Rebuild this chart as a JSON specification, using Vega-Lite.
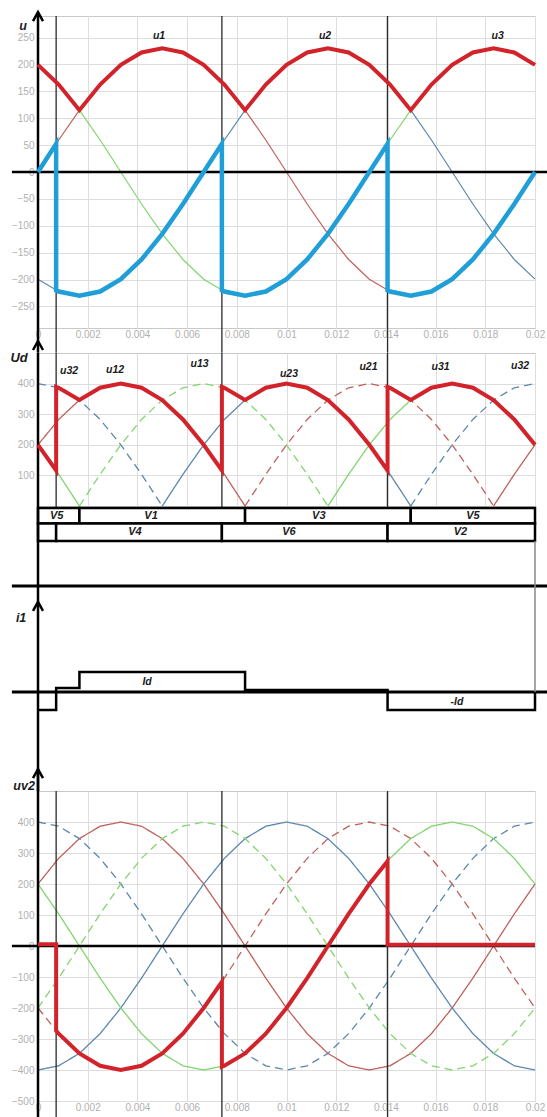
{
"$schema":"https://vega.github.io/schema/vega-lite/v6.json",
"padding":{"left":9,"top":6,"right":0,"bottom":0},
"background":"white",
"spacing":25,
"bounds":"flush",
"resolve":{"scale":{"color":"independent","strokeDash":"independent"}},
"config":{
 "view":{"stroke":"#c8c8c8","strokeWidth":1},
 "axis":{"domain":false,"ticks":false,"gridColor":"#dddddd","gridWidth":1,"labelColor":"#b0b0b0","labelFont":"Liberation Sans","labelFontSize":10,"labelFlush":false,"labelOverlap":false,"labelPadding":4,"tickCount":30}
},
"datasets":{
 "p1":[
{"t":0,"u1":0,"u2":-199.2,"u3":199.2,"top":199.2},
{"t":0.000833,"u1":59.5,"u2":-222.2,"u3":162.6,"top":162.6},
{"t":0.001667,"u1":115,"u2":-230,"u3":115,"top":115},
{"t":0.0025,"u1":162.6,"u2":-222.2,"u3":59.5,"top":162.6},
{"t":0.003333,"u1":199.2,"u2":-199.2,"u3":0,"top":199.2},
{"t":0.004167,"u1":222.2,"u2":-162.6,"u3":-59.5,"top":222.2},
{"t":0.005,"u1":230,"u2":-115,"u3":-115,"top":230},
{"t":0.005833,"u1":222.2,"u2":-59.5,"u3":-162.6,"top":222.2},
{"t":0.006667,"u1":199.2,"u2":0,"u3":-199.2,"top":199.2},
{"t":0.0075,"u1":162.6,"u2":59.5,"u3":-222.2,"top":162.6},
{"t":0.008333,"u1":115,"u2":115,"u3":-230,"top":115},
{"t":0.009167,"u1":59.5,"u2":162.6,"u3":-222.2,"top":162.6},
{"t":0.01,"u1":0,"u2":199.2,"u3":-199.2,"top":199.2},
{"t":0.010833,"u1":-59.5,"u2":222.2,"u3":-162.6,"top":222.2},
{"t":0.011667,"u1":-115,"u2":230,"u3":-115,"top":230},
{"t":0.0125,"u1":-162.6,"u2":222.2,"u3":-59.5,"top":222.2},
{"t":0.013333,"u1":-199.2,"u2":199.2,"u3":0,"top":199.2},
{"t":0.014167,"u1":-222.2,"u2":162.6,"u3":59.5,"top":162.6},
{"t":0.015,"u1":-230,"u2":115,"u3":115,"top":115},
{"t":0.015833,"u1":-222.2,"u2":59.5,"u3":162.6,"top":162.6},
{"t":0.016667,"u1":-199.2,"u2":0,"u3":199.2,"top":199.2},
{"t":0.0175,"u1":-162.6,"u2":-59.5,"u3":222.2,"top":222.2},
{"t":0.018333,"u1":-115,"u2":-115,"u3":230,"top":230},
{"t":0.019167,"u1":-59.5,"u2":-162.6,"u3":222.2,"top":222.2},
{"t":0.02,"u1":0,"u2":-199.2,"u3":199.2,"top":199.2}
 ],
 "p1bot":[
{"t":0,"v":0},{"t":0.00073,"v":52.3},{"t":0.00073,"v":-220.1},{"t":0.000833,"v":-222.2},{"t":0.001667,"v":-230},{"t":0.0025,"v":-222.2},{"t":0.003333,"v":-199.2},{"t":0.004167,"v":-162.6},{"t":0.005,"v":-115},{"t":0.005833,"v":-59.5},{"t":0.006667,"v":0},{"t":0.0074,"v":52.3},{"t":0.0074,"v":-220.1},{"t":0.0075,"v":-222.2},{"t":0.008333,"v":-230},{"t":0.009167,"v":-222.2},{"t":0.01,"v":-199.2},{"t":0.010833,"v":-162.6},{"t":0.011667,"v":-115},{"t":0.0125,"v":-59.5},{"t":0.013333,"v":0},{"t":0.014067,"v":52.3},{"t":0.014067,"v":-220.1},{"t":0.014167,"v":-222.2},{"t":0.015,"v":-230},{"t":0.015833,"v":-222.2},{"t":0.016667,"v":-199.2},{"t":0.0175,"v":-162.6},{"t":0.018333,"v":-115},{"t":0.019167,"v":-59.5},{"t":0.02,"v":0}
 ],
 "p2":[
{"g":"R1","t":0,"v":200},{"g":"R1","t":0.000833,"v":282.8},{"g":"R1","t":0.001667,"v":346.4},{"g":"R1","t":0.0025,"v":386.4},{"g":"R1","t":0.003333,"v":400},{"g":"R1","t":0.004167,"v":386.4},{"g":"R1","t":0.005,"v":346.4},{"g":"R1","t":0.005833,"v":282.8},{"g":"R1","t":0.006667,"v":200},{"g":"R1","t":0.0075,"v":103.5},{"g":"R1","t":0.008333,"v":0},
{"g":"R2","t":0.008333,"v":0},{"g":"R2","t":0.009167,"v":103.5},{"g":"R2","t":0.01,"v":200},{"g":"R2","t":0.010833,"v":282.8},{"g":"R2","t":0.011667,"v":346.4},{"g":"R2","t":0.0125,"v":386.4},{"g":"R2","t":0.013333,"v":400},{"g":"R2","t":0.014167,"v":386.4},{"g":"R2","t":0.015,"v":346.4},{"g":"R2","t":0.015833,"v":282.8},{"g":"R2","t":0.016667,"v":200},{"g":"R2","t":0.0175,"v":103.5},{"g":"R2","t":0.018333,"v":0},
{"g":"R3","t":0.018333,"v":0},{"g":"R3","t":0.019167,"v":103.5},{"g":"R3","t":0.02,"v":200},
{"g":"B1","t":0,"v":400},{"g":"B1","t":0.000833,"v":386.4},{"g":"B1","t":0.001667,"v":346.4},{"g":"B1","t":0.0025,"v":282.8},{"g":"B1","t":0.003333,"v":200},{"g":"B1","t":0.004167,"v":103.5},{"g":"B1","t":0.005,"v":0},
{"g":"B2","t":0.005,"v":0},{"g":"B2","t":0.005833,"v":103.5},{"g":"B2","t":0.006667,"v":200},{"g":"B2","t":0.0075,"v":282.8},{"g":"B2","t":0.008333,"v":346.4},{"g":"B2","t":0.009167,"v":386.4},{"g":"B2","t":0.01,"v":400},{"g":"B2","t":0.010833,"v":386.4},{"g":"B2","t":0.011667,"v":346.4},{"g":"B2","t":0.0125,"v":282.8},{"g":"B2","t":0.013333,"v":200},{"g":"B2","t":0.014167,"v":103.5},{"g":"B2","t":0.015,"v":0},
{"g":"B3","t":0.015,"v":0},{"g":"B3","t":0.015833,"v":103.5},{"g":"B3","t":0.016667,"v":200},{"g":"B3","t":0.0175,"v":282.8},{"g":"B3","t":0.018333,"v":346.4},{"g":"B3","t":0.019167,"v":386.4},{"g":"B3","t":0.02,"v":400},
{"g":"G1","t":0,"v":200},{"g":"G1","t":0.000833,"v":103.5},{"g":"G1","t":0.001667,"v":0},
{"g":"G2","t":0.001667,"v":0},{"g":"G2","t":0.0025,"v":103.5},{"g":"G2","t":0.003333,"v":200},{"g":"G2","t":0.004167,"v":282.8},{"g":"G2","t":0.005,"v":346.4},{"g":"G2","t":0.005833,"v":386.4},{"g":"G2","t":0.006667,"v":400},{"g":"G2","t":0.0075,"v":386.4},{"g":"G2","t":0.008333,"v":346.4},{"g":"G2","t":0.009167,"v":282.8},{"g":"G2","t":0.01,"v":200},{"g":"G2","t":0.010833,"v":103.5},{"g":"G2","t":0.011667,"v":0},
{"g":"G3","t":0.011667,"v":0},{"g":"G3","t":0.0125,"v":103.5},{"g":"G3","t":0.013333,"v":200},{"g":"G3","t":0.014167,"v":282.8},{"g":"G3","t":0.015,"v":346.4},{"g":"G3","t":0.015833,"v":386.4},{"g":"G3","t":0.016667,"v":400},{"g":"G3","t":0.0175,"v":386.4},{"g":"G3","t":0.018333,"v":346.4},{"g":"G3","t":0.019167,"v":282.8},{"g":"G3","t":0.02,"v":200}
 ],
 "ud":[
{"t":0,"v":200},{"t":0.00073,"v":116},{"t":0.00073,"v":389.5},{"t":0.000833,"v":386.4},{"t":0.001667,"v":346.4},{"t":0.0025,"v":386.4},{"t":0.003333,"v":400},{"t":0.004167,"v":386.4},{"t":0.005,"v":346.4},{"t":0.005833,"v":282.8},{"t":0.006667,"v":200},{"t":0.0074,"v":116},{"t":0.0074,"v":389.5},{"t":0.0075,"v":386.4},{"t":0.008333,"v":346.4},{"t":0.009167,"v":386.4},{"t":0.01,"v":400},{"t":0.010833,"v":386.4},{"t":0.011667,"v":346.4},{"t":0.0125,"v":282.8},{"t":0.013333,"v":200},{"t":0.014067,"v":116},{"t":0.014067,"v":389.5},{"t":0.014167,"v":386.4},{"t":0.015,"v":346.4},{"t":0.015833,"v":386.4},{"t":0.016667,"v":400},{"t":0.0175,"v":386.4},{"t":0.018333,"v":346.4},{"t":0.019167,"v":282.8},{"t":0.02,"v":200}
 ],
 "p4":[
{"t":0,"Rs":200,"Rd":-200,"Bs":-400,"Bd":400,"Gs":200,"Gd":-200},
{"t":0.000833,"Rs":282.8,"Rd":-282.8,"Bs":-386.4,"Bd":386.4,"Gs":103.5,"Gd":-103.5},
{"t":0.001667,"Rs":346.4,"Rd":-346.4,"Bs":-346.4,"Bd":346.4,"Gs":0,"Gd":0},
{"t":0.0025,"Rs":386.4,"Rd":-386.4,"Bs":-282.8,"Bd":282.8,"Gs":-103.5,"Gd":103.5},
{"t":0.003333,"Rs":400,"Rd":-400,"Bs":-200,"Bd":200,"Gs":-200,"Gd":200},
{"t":0.004167,"Rs":386.4,"Rd":-386.4,"Bs":-103.5,"Bd":103.5,"Gs":-282.8,"Gd":282.8},
{"t":0.005,"Rs":346.4,"Rd":-346.4,"Bs":0,"Bd":0,"Gs":-346.4,"Gd":346.4},
{"t":0.005833,"Rs":282.8,"Rd":-282.8,"Bs":103.5,"Bd":-103.5,"Gs":-386.4,"Gd":386.4},
{"t":0.006667,"Rs":200,"Rd":-200,"Bs":200,"Bd":-200,"Gs":-400,"Gd":400},
{"t":0.0075,"Rs":103.5,"Rd":-103.5,"Bs":282.8,"Bd":-282.8,"Gs":-386.4,"Gd":386.4},
{"t":0.008333,"Rs":0,"Rd":0,"Bs":346.4,"Bd":-346.4,"Gs":-346.4,"Gd":346.4},
{"t":0.009167,"Rs":-103.5,"Rd":103.5,"Bs":386.4,"Bd":-386.4,"Gs":-282.8,"Gd":282.8},
{"t":0.01,"Rs":-200,"Rd":200,"Bs":400,"Bd":-400,"Gs":-200,"Gd":200},
{"t":0.010833,"Rs":-282.8,"Rd":282.8,"Bs":386.4,"Bd":-386.4,"Gs":-103.5,"Gd":103.5},
{"t":0.011667,"Rs":-346.4,"Rd":346.4,"Bs":346.4,"Bd":-346.4,"Gs":0,"Gd":0},
{"t":0.0125,"Rs":-386.4,"Rd":386.4,"Bs":282.8,"Bd":-282.8,"Gs":103.5,"Gd":-103.5},
{"t":0.013333,"Rs":-400,"Rd":400,"Bs":200,"Bd":-200,"Gs":200,"Gd":-200},
{"t":0.014167,"Rs":-386.4,"Rd":386.4,"Bs":103.5,"Bd":-103.5,"Gs":282.8,"Gd":-282.8},
{"t":0.015,"Rs":-346.4,"Rd":346.4,"Bs":0,"Bd":0,"Gs":346.4,"Gd":-346.4},
{"t":0.015833,"Rs":-282.8,"Rd":282.8,"Bs":-103.5,"Bd":103.5,"Gs":386.4,"Gd":-386.4},
{"t":0.016667,"Rs":-200,"Rd":200,"Bs":-200,"Bd":200,"Gs":400,"Gd":-400},
{"t":0.0175,"Rs":-103.5,"Rd":103.5,"Bs":-282.8,"Bd":282.8,"Gs":386.4,"Gd":-386.4},
{"t":0.018333,"Rs":0,"Rd":0,"Bs":-346.4,"Bd":346.4,"Gs":346.4,"Gd":-346.4},
{"t":0.019167,"Rs":103.5,"Rd":-103.5,"Bs":-386.4,"Bd":386.4,"Gs":282.8,"Gd":-282.8},
{"t":0.02,"Rs":200,"Rd":-200,"Bs":-400,"Bd":400,"Gs":200,"Gd":-200}
 ],
 "uv":[
{"t":0,"v":6},{"t":0.00073,"v":6},{"t":0.00073,"v":-273.5},{"t":0.000833,"v":-282.8},{"t":0.001667,"v":-346.4},{"t":0.0025,"v":-386.4},{"t":0.003333,"v":-400},{"t":0.004167,"v":-386.4},{"t":0.005,"v":-346.4},{"t":0.005833,"v":-282.8},{"t":0.006667,"v":-200},{"t":0.0074,"v":-116},{"t":0.0074,"v":-389.5},{"t":0.0075,"v":-386.4},{"t":0.008333,"v":-346.4},{"t":0.009167,"v":-282.8},{"t":0.01,"v":-200},{"t":0.010833,"v":-103.5},{"t":0.011667,"v":0},{"t":0.0125,"v":103.5},{"t":0.013333,"v":200},{"t":0.014067,"v":273.5},{"t":0.014067,"v":4},{"t":0.02,"v":4}
 ],
 "i1":[
{"t":0,"v":-0.9},{"t":0.00073,"v":0.2},{"t":0.001667,"v":1},{"t":0.008333,"v":0.1},{"t":0.014067,"v":-0.9},{"t":0.02,"v":0}
 ],
 "fire":[{"t":0.00073},{"t":0.0074},{"t":0.014067}],
 "boxes":[
{"r":1,"t0":0,"t1":0.001667},{"r":1,"t0":0.001667,"t1":0.008333},{"r":1,"t0":0.008333,"t1":0.015},{"r":1,"t0":0.015,"t1":0.02},
{"r":2,"t0":0,"t1":0.00073},{"r":2,"t0":0.00073,"t1":0.0074},{"r":2,"t0":0.0074,"t1":0.014067},{"r":2,"t0":0.014067,"t1":0.02}
 ],
 "boxlab":[
{"r":1,"t":0.00075,"txt":"V5"},{"r":1,"t":0.00455,"txt":"V1"},{"r":1,"t":0.0113,"txt":"V3"},{"r":1,"t":0.0175,"txt":"V5"},
{"r":2,"t":0.0039,"txt":"V4"},{"r":2,"t":0.0101,"txt":"V6"},{"r":2,"t":0.017,"txt":"V2"}
 ],
 "lab1":[{"t":0.00487,"v":253,"txt":"u1"},{"t":0.01155,"v":253,"txt":"u2"},{"t":0.0185,"v":253,"txt":"u3"}],
 "lab2":[{"t":0.00125,"v":441,"txt":"u32"},{"t":0.0031,"v":444,"txt":"u12"},{"t":0.0065,"v":464,"txt":"u13"},{"t":0.0101,"v":431,"txt":"u23"},{"t":0.0133,"v":454,"txt":"u21"},{"t":0.0162,"v":454,"txt":"u31"},{"t":0.0194,"v":458,"txt":"u32"}]
},
"vconcat":[
 {"width":497,"height":312,
  "layer":[
   {"data":{"name":"p1"},"transform":[{"fold":["u1","u2","u3"],"as":["s","v"]}],
    "mark":{"type":"line","strokeWidth":1.2},
    "encoding":{
     "x":{"field":"t","type":"quantitative","title":null,"scale":{"domain":[0,0.02],"nice":false,"zero":false},"axis":{"values":[0,0.002,0.004,0.006,0.008,0.01,0.012,0.014,0.016,0.018,0.02],"format":"~f","labelPadding":1,"labelOverlap":false,"tickCount":30}},
     "y":{"field":"v","type":"quantitative","title":null,"scale":{"domain":[-290,290],"nice":false,"zero":false},"axis":{"values":[-250,-200,-150,-100,-50,0,50,100,150,200,250],"labelOverlap":false,"tickCount":30}},
     "color":{"field":"s","type":"nominal","scale":{"domain":["u1","u2","u3"],"range":["#c0605c","#5c87ad","#80d66e"]},"legend":null}}},
   {"data":{"values":[{}]},"mark":{"type":"rule","color":"#000","strokeWidth":2.5},"encoding":{"x":{"datum":-0.00105},"x2":{"datum":0.02056},"y":{"datum":0}}},
   {"data":{"name":"fire"},"mark":{"type":"rule","color":"#2a2a2a","strokeWidth":1.3},"encoding":{"x":{"field":"t","type":"quantitative","title":null},"y":{"datum":290},"y2":{"datum":-336}}},
   {"data":{"values":[{}]},"mark":{"type":"rule","color":"#000","strokeWidth":2.5},"encoding":{"x":{"datum":0},"y":{"datum":297},"y2":{"datum":-336}}},
   {"data":{"values":[{}]},"mark":{"type":"point","shape":"M-1,0.9L0,-0.9L1,0.9","size":100,"filled":false,"color":"#000","strokeWidth":2.5,"opacity":1},"encoding":{"x":{"datum":0},"y":{"datum":289}}},
   {"data":{"name":"p1bot"},"mark":{"type":"line","color":"#1f9ed8","strokeWidth":4.5},"encoding":{"x":{"field":"t","type":"quantitative","title":null},"y":{"field":"v","type":"quantitative","title":null},"order":{"value":null}}},
   {"data":{"name":"p1"},"mark":{"type":"line","color":"#d2232b","strokeWidth":4},"encoding":{"x":{"field":"t","type":"quantitative","title":null},"y":{"field":"top","type":"quantitative","title":null}}},
   {"data":{"name":"lab1"},"mark":{"type":"text","font":"Liberation Sans","fontStyle":"italic","fontWeight":"bold","fontSize":10.5,"color":"#1b1b1b"},"encoding":{"x":{"field":"t","type":"quantitative","title":null},"y":{"field":"v","type":"quantitative","title":null},"text":{"field":"txt","type":"nominal"}}},
   {"data":{"values":[{"t":-0.0006,"v":271,"txt":"u"}]},"mark":{"type":"text","font":"Liberation Sans","fontStyle":"italic","fontWeight":"bold","fontSize":12.5,"color":"#1b1b1b"},"encoding":{"x":{"field":"t","type":"quantitative","title":null},"y":{"field":"v","type":"quantitative","title":null},"text":{"field":"txt","type":"nominal"}}}
  ]},
 {"width":497,"height":153,
  "layer":[
   {"data":{"name":"p2"},"mark":{"type":"line","strokeWidth":1.3},
    "encoding":{
     "x":{"field":"t","type":"quantitative","title":null,"scale":{"domain":[0,0.02],"nice":false,"zero":false},"axis":{"values":[0,0.002,0.004,0.006,0.008,0.01,0.012,0.014,0.016,0.018,0.02],"labels":false,"tickCount":30}},
     "y":{"field":"v","type":"quantitative","title":null,"scale":{"domain":[0,500],"nice":false},"axis":{"values":[100,200,300,400],"labelOverlap":false,"tickCount":30}},
     "color":{"field":"g","type":"nominal","scale":{"domain":["R1","R2","R3","B1","B2","B3","G1","G2","G3"],"range":["#c0605c","#c0605c","#c0605c","#5c87ad","#5c87ad","#5c87ad","#80d66e","#80d66e","#80d66e"]},"legend":null},
     "strokeDash":{"field":"g","type":"nominal","scale":{"domain":["R1","R2","R3","B1","B2","B3","G1","G2","G3"],"range":[[1,0],[8,5],[1,0],[8,5],[1,0],[8,5],[1,0],[8,5],[1,0]]},"legend":null}}},
   {"data":{"name":"fire"},"mark":{"type":"rule","color":"#2a2a2a","strokeWidth":1.3},"encoding":{"x":{"field":"t","type":"quantitative","title":null},"y":{"datum":500},"y2":{"datum":-114}}},
   {"data":{"name":"boxes"},"transform":[{"filter":"datum.r==1"}],"mark":{"type":"rect","fill":"white","stroke":"#000","strokeWidth":2.5},"encoding":{"x":{"field":"t0","type":"quantitative","title":null},"x2":{"field":"t1"},"y":{"datum":-6.5},"y2":{"datum":-57}}},
   {"data":{"name":"boxes"},"transform":[{"filter":"datum.r==2"}],"mark":{"type":"rect","fill":"white","stroke":"#000","strokeWidth":2.5},"encoding":{"x":{"field":"t0","type":"quantitative","title":null},"x2":{"field":"t1"},"y":{"datum":-57},"y2":{"datum":-114}}},
   {"data":{"values":[{}]},"mark":{"type":"rule","color":"#000","strokeWidth":2.5},"encoding":{"x":{"datum":0},"y":{"datum":500},"y2":{"datum":-82}}},
   {"data":{"values":[{}]},"mark":{"type":"point","shape":"M-1,0.9L0,-0.9L1,0.9","size":100,"filled":false,"color":"#000","strokeWidth":2.5,"opacity":1},"encoding":{"x":{"datum":0},"y":{"datum":524.5}}},
   {"data":{"name":"ud"},"mark":{"type":"line","color":"#d2232b","strokeWidth":4},"encoding":{"x":{"field":"t","type":"quantitative","title":null},"y":{"field":"v","type":"quantitative","title":null},"order":{"value":null}}},
   {"data":{"name":"boxlab"},"transform":[{"filter":"datum.r==1"}],"mark":{"type":"text","font":"Liberation Sans","fontStyle":"italic","fontWeight":"bold","fontSize":11,"color":"#1b1b1b"},"encoding":{"x":{"field":"t","type":"quantitative","title":null},"y":{"datum":-32},"text":{"field":"txt","type":"nominal"}}},
   {"data":{"name":"boxlab"},"transform":[{"filter":"datum.r==2"}],"mark":{"type":"text","font":"Liberation Sans","fontStyle":"italic","fontWeight":"bold","fontSize":11,"color":"#1b1b1b"},"encoding":{"x":{"field":"t","type":"quantitative","title":null},"y":{"datum":-85},"text":{"field":"txt","type":"nominal"}}},
   {"data":{"name":"lab2"},"mark":{"type":"text","font":"Liberation Sans","fontStyle":"italic","fontWeight":"bold","fontSize":10.5,"color":"#1b1b1b"},"encoding":{"x":{"field":"t","type":"quantitative","title":null},"y":{"field":"v","type":"quantitative","title":null},"text":{"field":"txt","type":"nominal"}}},
   {"data":{"values":[{"t":-0.00076,"v":484,"txt":"Ud"}]},"mark":{"type":"text","font":"Liberation Sans","fontStyle":"italic","fontWeight":"bold","fontSize":13,"color":"#1b1b1b"},"encoding":{"x":{"field":"t","type":"quantitative","title":null},"y":{"field":"v","type":"quantitative","title":null},"text":{"field":"txt","type":"nominal"}}}
  ]},
 {"width":497,"height":235,"view":{"stroke":null},
  "layer":[
   {"data":{"name":"i1"},"mark":{"type":"line","interpolate":"step-after","color":"#000","strokeWidth":2.5},"encoding":{"x":{"field":"t","type":"quantitative","title":null,"scale":{"domain":[0,0.02],"nice":false,"zero":false},"axis":null},"y":{"field":"v","type":"quantitative","title":null,"scale":{"domain":[-3.7,8.05],"nice":false,"zero":false},"axis":null},"order":{"value":null}}},
   {"data":{"values":[{}]},"mark":{"type":"rule","color":"#000","strokeWidth":3},"encoding":{"x":{"datum":-0.00105,"axis":null},"x2":{"datum":0.02056},"y":{"datum":0,"axis":null}}},
   {"data":{"values":[{}]},"mark":{"type":"rule","color":"#000","strokeWidth":3},"encoding":{"x":{"datum":-0.00105,"axis":null},"x2":{"datum":0.02056},"y":{"datum":5.3,"axis":null}}},
   {"data":{"values":[{}]},"mark":{"type":"rule","color":"#000","strokeWidth":2.5},"encoding":{"x":{"datum":0,"axis":null},"y":{"datum":8.05,"axis":null},"y2":{"datum":-4.95}}},
   {"data":{"values":[{}]},"mark":{"type":"rule","color":"#888888","strokeWidth":1.5},"encoding":{"x":{"datum":0.02,"axis":null},"y":{"datum":7.55,"axis":null},"y2":{"datum":0}}},
   {"data":{"values":[{}]},"mark":{"type":"point","shape":"M-1,0.9L0,-0.9L1,0.9","size":100,"filled":false,"color":"#000","strokeWidth":2.5,"opacity":1},"encoding":{"x":{"datum":0,"axis":null},"y":{"datum":4.28,"axis":null}}},
   {"data":{"values":[{"t":0.00439,"v":0.5,"txt":"Id"},{"t":0.01686,"v":-0.5,"txt":"-Id"}]},"mark":{"type":"text","font":"Liberation Sans","fontStyle":"italic","fontWeight":"bold","fontSize":10.5,"color":"#1b1b1b"},"encoding":{"x":{"field":"t","type":"quantitative","title":null,"axis":null},"y":{"field":"v","type":"quantitative","title":null,"axis":null},"text":{"field":"txt","type":"nominal"}}},
   {"data":{"values":[{"t":-0.00068,"v":3.7,"txt":"i1"}]},"mark":{"type":"text","font":"Liberation Sans","fontStyle":"italic","fontWeight":"bold","fontSize":12.5,"color":"#1b1b1b"},"encoding":{"x":{"field":"t","type":"quantitative","title":null,"axis":null},"y":{"field":"v","type":"quantitative","title":null,"axis":null},"text":{"field":"txt","type":"nominal"}}}
  ]},
 {"width":497,"height":310,
  "layer":[
   {"data":{"name":"p4"},"transform":[{"fold":["Rs","Rd","Bs","Bd","Gs","Gd"],"as":["s","v"]}],
    "mark":{"type":"line","strokeWidth":1.3},
    "encoding":{
     "x":{"field":"t","type":"quantitative","title":null,"scale":{"domain":[0,0.02],"nice":false,"zero":false},"axis":{"values":[0,0.002,0.004,0.006,0.008,0.01,0.012,0.014,0.016,0.018,0.02],"format":"~f","labelPadding":1,"labelOverlap":false,"tickCount":30}},
     "y":{"field":"v","type":"quantitative","title":null,"scale":{"domain":[-500,500],"nice":false},"axis":{"values":[-500,-400,-300,-200,-100,0,100,200,300,400],"labelOverlap":false,"tickCount":30}},
     "color":{"field":"s","type":"nominal","scale":{"domain":["Rs","Rd","Bs","Bd","Gs","Gd"],"range":["#c0605c","#c0605c","#5c87ad","#5c87ad","#80d66e","#80d66e"]},"legend":null},
     "strokeDash":{"field":"s","type":"nominal","scale":{"domain":["Rs","Rd","Bs","Bd","Gs","Gd"],"range":[[1,0],[8,5],[1,0],[8,5],[1,0],[8,5]]},"legend":null}}},
   {"data":{"values":[{}]},"mark":{"type":"rule","color":"#000","strokeWidth":2.5},"encoding":{"x":{"datum":-0.00105},"x2":{"datum":0.02},"y":{"datum":0}}},
   {"data":{"name":"fire"},"mark":{"type":"rule","color":"#2a2a2a","strokeWidth":1.3},"encoding":{"x":{"field":"t","type":"quantitative","title":null},"y":{"datum":500},"y2":{"datum":-560}}},
   {"data":{"values":[{}]},"mark":{"type":"rule","color":"#000","strokeWidth":2.5},"encoding":{"x":{"datum":0},"y":{"datum":571},"y2":{"datum":-560}}},
   {"data":{"values":[{}]},"mark":{"type":"point","shape":"M-1,0.9L0,-0.9L1,0.9","size":100,"filled":false,"color":"#000","strokeWidth":2.5,"opacity":1},"encoding":{"x":{"datum":0},"y":{"datum":556}}},
   {"data":{"name":"uv"},"mark":{"type":"line","color":"#d2232b","strokeWidth":4},"encoding":{"x":{"field":"t","type":"quantitative","title":null},"y":{"field":"v","type":"quantitative","title":null},"order":{"value":null}}},
   {"data":{"values":[{"t":-0.00056,"v":516,"txt":"uv2"}]},"mark":{"type":"text","font":"Liberation Sans","fontStyle":"italic","fontWeight":"bold","fontSize":12.5,"color":"#1b1b1b"},"encoding":{"x":{"field":"t","type":"quantitative","title":null},"y":{"field":"v","type":"quantitative","title":null},"text":{"field":"txt","type":"nominal"}}}
  ]}
]
}
